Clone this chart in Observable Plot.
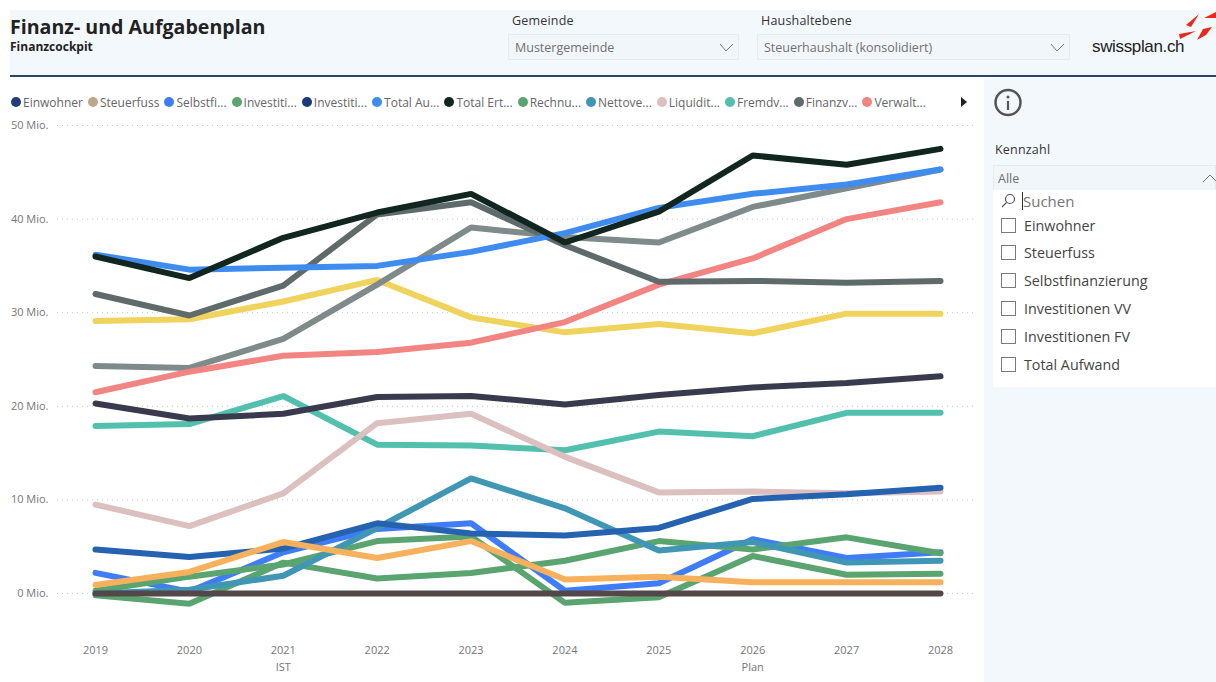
<!DOCTYPE html>
<html lang="de"><head><meta charset="utf-8">
<script src="https://cdn.jsdelivr.net/npm/d3@7"></script>
<script src="https://cdn.jsdelivr.net/npm/@observablehq/plot@0.6"></script>
<style>
html,body{margin:0;padding:0;background:#fff;width:1216px;height:682px;overflow:hidden;font-family:"Open Sans","Noto Sans",sans-serif;color:#252423}
.abs{position:absolute;white-space:nowrap}
#head{left:10px;top:10px;width:1206px;height:65px;background:#f3f8fd}
#rule{left:10px;top:75px;width:1206px;height:2px;background:#2a4467}
#side{left:984px;top:78px;width:232px;height:604px;background:#f3f8fd}
.box{background:#f1f6fb;border:1px solid #e6ebf0;box-sizing:border-box}
.label{font-size:12.5px;color:#333;letter-spacing:.2px}
.val{font-size:12.5px;color:#707070}
#legend{left:11px;top:94px;height:16px;width:950px;display:flex;align-items:center;font-size:12px;color:#666}
#legend .it{display:flex;align-items:center;gap:2px;margin-right:5px}
#legend i{width:10px;height:10px;border-radius:50%;display:inline-block}
.cb{width:15px;height:15px;border:1px solid #7a7a7a;background:#fff;box-sizing:border-box}
.opt{font-size:14.3px;color:#444}
#chart{left:0;top:78px}
</style></head><body>
<div class="abs" id="head"></div><div class="abs" id="rule"></div><div class="abs" id="side"></div>
<div class="abs" style="left:10px;top:13px;font-size:19.6px;font-weight:700;color:#222;line-height:28px">Finanz- und Aufgabenplan</div>
<div class="abs" style="left:10px;top:39px;font-size:12px;font-weight:700;color:#222;line-height:16px">Finanzcockpit</div>
<div class="abs label" style="left:512px;top:12px">Gemeinde</div>
<div class="abs box" style="left:508px;top:34px;width:231px;height:26px"></div>
<div class="abs val" style="left:515px;top:39px">Mustergemeinde</div>
<div class="abs label" style="left:761px;top:12px">Haushaltebene</div>
<div class="abs box" style="left:757px;top:34px;width:313px;height:26px"></div>
<div class="abs val" style="left:764px;top:39px">Steuerhaushalt (konsolidiert)</div>
<div class="abs" style="left:1092px;top:37px;font:17px 'Liberation Sans',sans-serif;color:#222;letter-spacing:-.35px">swissplan.ch</div>
<div class="abs" id="legend"></div>
<div class="abs" id="chart"></div>
<div class="abs label" style="left:995px;top:141px">Kennzahl</div>
<div class="abs box" style="left:993px;top:165px;width:223px;height:26px"></div>
<div class="abs val" style="left:998px;top:170px">Alle</div>
<div class="abs" style="left:993px;top:190px;width:223px;height:22px;background:#fff;border-bottom:1px solid #e3e3e3"></div>
<div class="abs" style="left:993px;top:212px;width:223px;height:175px;background:#fff"></div>
<svg class="abs" style="left:0;top:0" width="1216" height="682" id="deco" fill="none">
 <polyline points="720,44 726,51 733,44" stroke="#777"/>
 <polyline points="1051,44 1057,51 1064,44" stroke="#777"/>
 <polygon points="1186,25 1199,14 1191,27" fill="#e8291c"/>
 <polygon points="1204,18 1216,12 1216,18" fill="#e8291c"/>
 <polygon points="1179,34 1196,31 1180,39" fill="#e8291c"/>
 <polygon points="1197,40 1203,29 1212,27 1206,35" fill="#e8291c"/>
 <polygon points="961,97 967,102 961,107" fill="#222"/>
 <circle cx="1008" cy="102.500" r="12.500" stroke="#555" stroke-width="2.500"/>
 <circle cx="1008" cy="97" r="1.500" fill="#555"/>
 <line x1="1008" y1="101" x2="1008" y2="110" stroke="#555" stroke-width="2.200"/>
 <polyline points="1203,182 1210,175 1216,181" stroke="#777"/>
</svg>
<svg class="abs" style="left:1000px;top:192px" width="20" height="18" fill="none" stroke="#555" stroke-width="1.200"><circle cx="10" cy="7" r="4.500"/><line x1="6.500" y1="10.500" x2="2" y2="15"/></svg>
<div class="abs" style="left:1022px;top:192px;width:1px;height:18px;background:#333"></div>
<div class="abs" style="left:1023px;top:191px;font-size:15px;color:#777;line-height:20px">Suchen</div>
<div id="opts"></div>
<script>
const years = [2019,2020,2021,2022,2023,2024,2025,2026,2027,2028];
const groupLabels = ["IST","Plan"];
const groupYears = [2021,2026];
const yTicks = [0,10,20,30,40,50];

const legendNames = ["Einwohner","Steuerfuss","Selbstfi...","Investiti...","Investiti...","Total Au...","Total Ert...","Rechnu...","Nettove...","Liquidit...","Fremdv...","Finanzv...","Verwalt..."];
const legendColors = ["#1f3f7a","#b9a98a","#3f7cf7","#5aa470","#1a3a78","#3f8cf0","#10261f","#5aa470","#4097b5","#dcbfbf","#52c0ad","#5f6b6a","#f28582"];
const options = ["Einwohner","Steuerfuss","Selbstfinanzierung","Investitionen VV","Investitionen FV","Total Aufwand"];

const fremdv      = [17.9,18.1,21.1,15.9,15.8,15.3,17.3,16.8,19.3,19.3];
const liquiditaet = [9.5,7.2,10.7,18.2,19.2,14.6,10.8,10.9,10.7,10.9];
const gelb        = [29.1,29.3,31.2,33.5,29.5,27.9,28.8,27.8,29.9,29.9];
const grau        = [24.3,24.1,27.2,33,39.1,38.1,37.5,41.3,43.3,45.3];
const finanzv     = [32,29.7,32.9,40.5,41.8,37.2,33.3,33.4,33.2,33.4];
const verwalt     = [21.5,23.7,25.4,25.8,26.8,29,33,35.8,40,41.8];
const anthrazit   = [20.3,18.7,19.2,21,21.1,20.2,21.2,22,22.5,23.2];
const totalAufwand= [36.2,34.6,34.8,35,36.5,38.5,41.2,42.7,43.7,45.3];
const totalErtrag = [36,33.7,38,40.7,42.7,37.5,40.8,46.8,45.8,47.5];
const selbstfi    = [2.2,0.2,4.4,6.9,7.5,0.3,1.1,5.8,3.8,4.4];
const rechnung    = [0.3,1.8,3.1,5.6,6.1,-1,-0.4,4,2,2.1];
const investVV    = [-0.2,-1.1,3.3,1.6,2.2,3.5,5.6,4.7,6,4.3];
const nettov      = [0,0.4,1.9,7,12.3,9.1,4.6,5.5,3.3,3.5];
const blau        = [4.7,3.9,4.8,7.5,6.4,6.2,7,10.1,10.6,11.3];
const orange      = [0.9,2.3,5.5,3.8,5.6,1.5,1.8,1.2,1.2,1.2];
const nullLinie   = [0,0,0,0,0,0,0,0,0,0];

const seriesList = [
 ["Fremdv",fremdv,"#52c0ad"],["Liquidit",liquiditaet,"#dcbfbf"],["Gelb",gelb,"#efd35c"],["Grau",grau,"#7f8a8a"],
 ["Verwalt",verwalt,"#f28582"],["Finanzv",finanzv,"#5f6b6a"],["Anthrazit",anthrazit,"#3a3a4e"],
 ["Total Aufwand",totalAufwand,"#3f8cf0"],["Total Ertrag",totalErtrag,"#10261f"],
 ["Selbstfi",selbstfi,"#3f7cf7"],["Rechnung",rechnung,"#5aa470"],["Invest VV",investVV,"#5aa470"],
 ["Nettove",nettov,"#4097b5"],["Blau",blau,"#2563b0"],["Orange",orange,"#f7b05c"],["Null",nullLinie,"#54474a"]
];

const legend = document.getElementById("legend");
legendNames.forEach((n,i)=>{
  const d=document.createElement("div");d.className="it";
  const c=document.createElement("i");c.style.background=legendColors[i];
  const t=document.createElement("span");t.textContent=n;
  d.append(c,t);legend.append(d);
});
const optBox=document.getElementById("opts");
options.forEach((n,i)=>{
  const top=218+i*27.8;
  const c=document.createElement("div");c.className="abs cb";c.style.left="1001px";c.style.top=(top-0.500)+"px";
  const t=document.createElement("div");t.className="abs opt";t.style.left="1024px";t.style.top=(top-2.500)+"px";t.textContent=n;
  optBox.append(c,t);
});

const lineMarks = seriesList.map(([name,vals,color])=>
  Plot.line(years.map((x,i)=>({x,y:vals[i]})),{x:"x",y:"y",stroke:color,strokeWidth:6,strokeLinejoin:"miter",strokeLinecap:"round",title:()=>name})
);
const chart = Plot.plot({
  width:984,height:604,marginLeft:57,marginRight:9,marginTop:0,marginBottom:50,
  style:{fontFamily:'"Open Sans","Noto Sans",sans-serif',fontSize:"11px",color:"#777",background:"transparent"},
  x:{type:"point",domain:years,range:[95,940],padding:0,round:false,label:null},
  y:{domain:[0,50],range:[515,47],label:null},
  marks:[
    Plot.gridY(yTicks,{stroke:"#c8c8c8",strokeOpacity:1,strokeDasharray:"1 4"}),
    Plot.axisY(yTicks,{anchor:"left",tickSize:0,tickPadding:9,label:null,tickFormat:d=>d+" Mio.",fill:"#777"}),
    Plot.axisX(years,{anchor:"bottom",tickSize:0,tickPadding:14,label:null,tickFormat:d=>String(d),fill:"#777"}),
    ...lineMarks,
    Plot.text(groupLabels,{x:(d,i)=>groupYears[i],frameAnchor:"bottom",dy:38,text:d=>d,fill:"#777"})
  ]
});
document.getElementById("chart").append(chart);
</script>
</body></html>
